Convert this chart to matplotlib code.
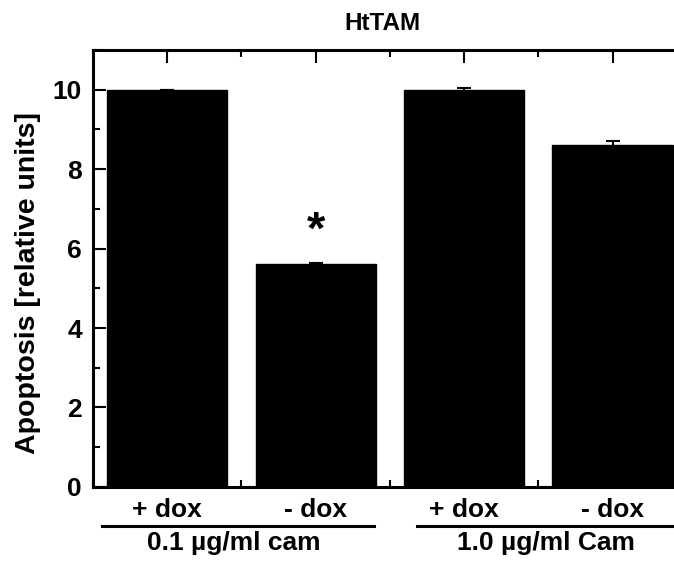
import matplotlib.pyplot as plt
from matplotlib.ticker import MultipleLocator

plt.rcParams['font.family'] = ['Liberation Sans', 'DejaVu Sans']
plt.rcParams['font.weight'] = 'bold'

# Apoptosis per condition
conditions = ['+ dox', '- dox', '+ dox', '- dox']
apoptosis = [10.0, 5.62, 10.0, 8.6]
errors = [0.0, 0.02, 0.05, 0.1]
groups = ['0.1 µg/ml cam', '1.0 µg/ml Cam']

fig = plt.figure(figsize=(6.74, 5.61), dpi=100)
ax = fig.add_axes([0.138, 0.132, 0.881, 0.779])

x = [1, 2, 3, 4]
ax.bar(x, apoptosis, width=0.81, color='black', edgecolor='black',
       yerr=errors, capsize=5, error_kw=dict(ecolor='black', elinewidth=1.5, capthick=1.5))

ax.set_xlim(0.5, 4.5)
ax.set_ylim(0, 11)
ax.set_xticks(x)
ax.set_xticklabels(conditions, fontsize=19, fontweight='bold')
ax.xaxis.set_minor_locator(MultipleLocator(0.5))
ax.yaxis.set_major_locator(MultipleLocator(2))
ax.yaxis.set_minor_locator(MultipleLocator(1))
ax.tick_params(axis='both', which='both', direction='in', top=True, right=True, width=1.5)
ax.tick_params(axis='both', which='major', length=9, labelsize=19, pad=8)
ax.tick_params(axis='both', which='minor', length=5)
for lbl in ax.get_yticklabels():
    lbl.set_fontweight('bold')
for sp in ax.spines.values():
    sp.set_linewidth(2.2)

# significance mark
ax.text(2, 6.12, '*', ha='center', va='baseline', fontsize=34, fontweight='bold')

# group brackets under the tick labels
spans = [(0.56, 2.39), (2.68, 4.42)]
centers = [1.45, 3.55]
for (x0, x1), c, g in zip(spans, centers, groups):
    ax.plot([x0, x1], [-0.089, -0.089], color='black', lw=2.2,
            transform=ax.get_xaxis_transform(), clip_on=False)
    ax.text(c, -0.128, g, ha='center', va='center', fontsize=19, fontweight='bold',
            transform=ax.get_xaxis_transform())

fig.text(0.568, 0.958, 'HtTAM', ha='center', va='center', fontsize=17.5, fontweight='bold')
fig.text(0.042, 0.495, 'Apoptosis [relative units]', ha='center', va='center',
         rotation=90, fontsize=20.5, fontweight='bold')

fig.savefig('out.png', dpi=100)
